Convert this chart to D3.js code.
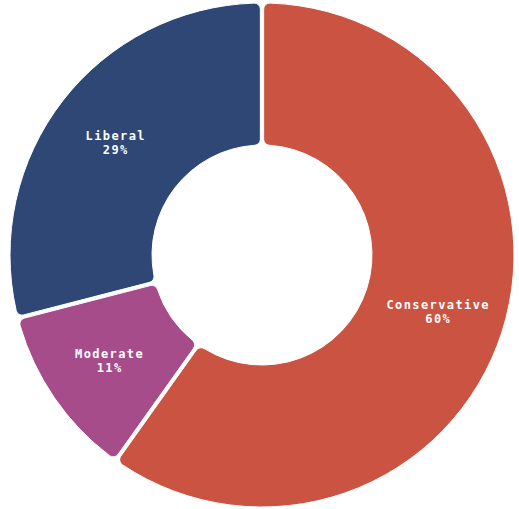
<!DOCTYPE html>
<html><head><meta charset="utf-8">
<script src="https://cdn.jsdelivr.net/npm/d3@7"></script>
<style>html,body{margin:0;padding:0;background:#fff;}</style>
</head><body>
<svg id="c" width="519" height="509"></svg>
<script>
const categories = ["Conservative", "Moderate", "Liberal"];
const values = [60, 11, 29];
const colors = ["#cb5341", "#a64c8b", "#2e4775"];

const svg = d3.select("#c");
const cx = 262, cy = 255, R = 252, r = 110;
const g = svg.append("g").attr("transform", `translate(${cx},${cy})`);
const data = categories.map((c, i) => ({cat: c, v: values[i], col: colors[i]}));
const pie = d3.pie().value(d => d.v).sort(null).padAngle(0.012);
const arc = d3.arc().innerRadius(r).outerRadius(R).cornerRadius(6);
const labelArc = d3.arc().innerRadius(185).outerRadius(185);
const arcs = pie(data);
g.selectAll("path").data(arcs).join("path")
  .attr("d", arc).attr("fill", d => d.data.col)
  .attr("stroke", "#fff").attr("stroke-width", 1);
const total = d3.sum(values);
const lines = d => [d.data.cat, Math.round(d.data.v / total * 100) + "%"];
const lg = g.selectAll("g.lab").data(arcs).join("g").attr("class", "lab")
  .attr("transform", d => `translate(${labelArc.centroid(d)})`);
lg.selectAll("text").data(d => lines(d).map((s, i) => ({s, i}))).join("text")
  .attr("x", 0).attr("y", d => d.i === 0 ? -2 : 12)
  .attr("text-anchor", "middle")
  .attr("fill", "#fff")
  .style("font-family", "'DejaVu Sans Mono', monospace")
  .style("font-weight", "bold")
  .style("font-size", "12px")
  .style("letter-spacing", "1.4px")
  .text(d => d.s);
</script>
</body></html>
